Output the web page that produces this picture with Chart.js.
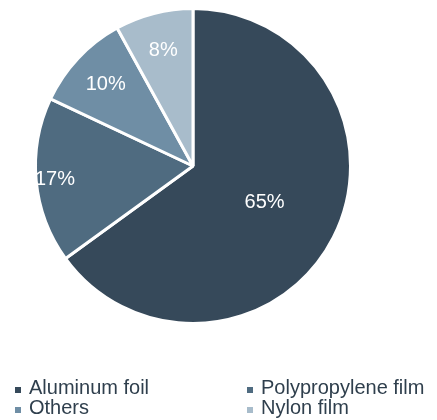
<!DOCTYPE html>
<html>
<head>
<meta charset="utf-8">
<script src="https://cdn.jsdelivr.net/npm/chart.js@4/dist/chart.umd.min.js"></script>
<style>
  html, body { margin: 0; padding: 0; background: #fff; }
  #wrap { width: 437px; height: 420px; position: relative; }
</style>
</head>
<body>
<div id="wrap"><canvas id="pieCanvas"></canvas></div>
<script>
// --- data ---
const materials = ['Aluminum foil', 'Polypropylene film', 'Others', 'Nylon film'];
const shares = [65, 17, 10, 8];
const sliceColors = ['#36495a', '#4f6b80', '#6f8ea5', '#a8bccb'];
// how far out (fraction of radius) each percentage label sits
const labelRadius = [0.51, 0.88, 0.76, 0.76];

const textColor = '#2f3f4d';
const fontFamily = 'Arial, "Liberation Sans", sans-serif';

// percentage text inside each slice
const sliceLabels = {
    id: 'sliceLabels',
    afterDatasetsDraw(chart) {
        const ctx = chart.ctx;
        const meta = chart.getDatasetMeta(0);
        ctx.save();
        ctx.font = '20px ' + fontFamily;
        ctx.fillStyle = '#ffffff';
        ctx.textAlign = 'center';
        ctx.textBaseline = 'middle';
        meta.data.forEach((arc, i) => {
            const p = arc.getProps(['x', 'y', 'startAngle', 'endAngle', 'outerRadius'], true);
            const mid = (p.startAngle + p.endAngle) / 2;
            const r = p.outerRadius * labelRadius[i];
            ctx.fillText(shares[i] + '%', p.x + Math.cos(mid) * r, p.y + Math.sin(mid) * r);
        });
        ctx.restore();
    }
};

// two-column legend under the pie
const gridLegend = {
    id: 'gridLegend',
    afterDraw(chart) {
        const ctx = chart.ctx;
        const colX = [15, 247];
        const baseY = [394, 414];
        ctx.save();
        ctx.font = '20px ' + fontFamily;
        ctx.textBaseline = 'alphabetic';
        materials.forEach((name, i) => {
            const x = colX[i % 2];
            const y = baseY[Math.floor(i / 2)];
            ctx.fillStyle = sliceColors[i];
            ctx.fillRect(x, y - 7, 6, 6);
            ctx.fillStyle = textColor;
            ctx.fillText(name, x + 14, y);
        });
        ctx.restore();
    }
};

new Chart(document.getElementById('pieCanvas'), {
    type: 'pie',
    data: {
        labels: materials,
        datasets: [{
            data: shares,
            backgroundColor: sliceColors,
            borderColor: '#ffffff',
            borderWidth: 3
        }]
    },
    options: {
        responsive: true,
        maintainAspectRatio: false,
        animation: false,
        layout: { padding: { left: 34, right: 85, top: 7, bottom: 95 } },
        plugins: {
            legend: { display: false },
            tooltip: { enabled: false }
        }
    },
    plugins: [sliceLabels, gridLegend]
});
</script>
</body>
</html>
